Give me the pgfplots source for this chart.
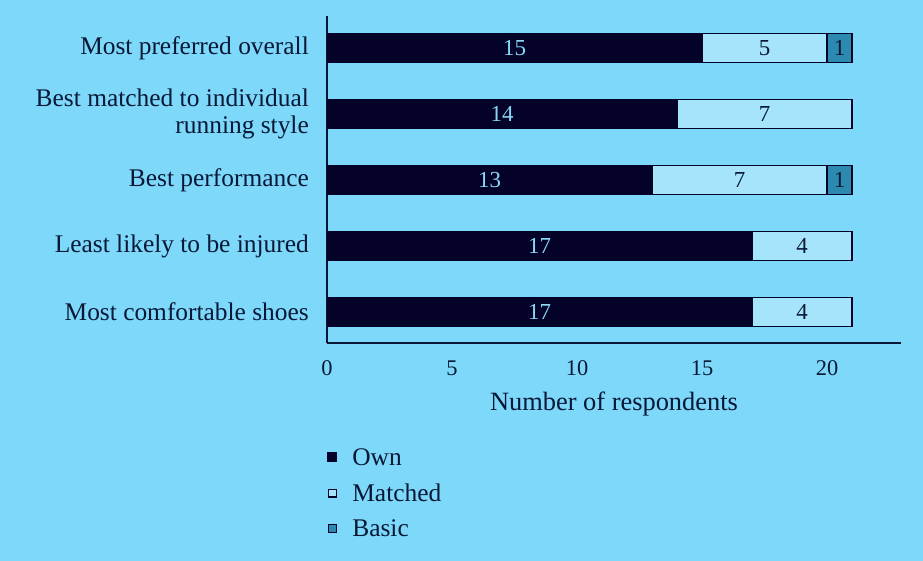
\documentclass[border=0pt]{standalone}
\usepackage{fontspec}
\setmainfont{Liberation Serif}
\usepackage{pgfplots}
\pgfplotsset{compat=1.18}
\definecolor{bg}{RGB}{125,216,250}
\definecolor{own}{RGB}{4,2,40}
\definecolor{matched}{RGB}{165,228,250}
\definecolor{basic}{RGB}{44,138,176}
\definecolor{textc}{RGB}{8,24,54}
\definecolor{ownlab}{RGB}{135,215,245}
\begin{document}
\begin{tikzpicture}
\useasboundingbox (0,0) rectangle (923bp,561bp);
\fill[bg] (0,0) rectangle (923bp,561bp);
\begin{axis}[
  at={(327bp,218bp)}, anchor=south west,
  scale only axis, width=574bp, height=327bp,
  xmin=0, xmax=22.96, ymin=-0.47, ymax=4.49,
  xbar stacked, bar width=29bp,
  axis lines*=left,
  axis line style={draw=textc, line width=1.6bp, -},
  major tick length=0pt,
  xtick={0,5,10,15,20},
  ytick={0,1,2,3,4},
  yticklabels={Most comfortable shoes, Least likely to be injured, Best performance, {Best matched to individual\\running style}, Most preferred overall},
  yticklabel style={align=right, inner sep=0pt, xshift=-18bp, font=\fontsize{25.5}{27}\selectfont, text=textc},
  xticklabel style={anchor=base, inner sep=0pt, yshift=-32bp, font=\fontsize{22.5}{27}\selectfont, text=textc},
  /pgf/number format/assume math mode=true,
  xlabel={Number of respondents},
  xlabel style={at={(axis description cs:0.5,0)}, anchor=base, yshift=-67bp, inner sep=0pt, font=\fontsize{26.5}{27}\selectfont, text=textc},
  legend cell align=left,
  legend style={at={(axis description cs:0,-0.315)}, anchor=north west, draw=none, fill=none, font=\fontsize{25.5}{29}\selectfont, text=textc, row sep=13bp, inner sep=0pt},
]
\addplot[fill=own, draw=own, line width=1.2bp,
  legend image code/.code={\fill[own] (1bp,-4.5bp) rectangle (10bp,4.5bp);}]
  coordinates {(17,0) (17,1) (13,2) (14,3) (15,4)};
\addplot[fill=matched, draw=own, line width=1.2bp,
  legend image code/.code={\draw[fill=matched, draw=own, line width=1.2bp] (1.6bp,-3.9bp) rectangle (9.4bp,3.9bp);}]
  coordinates {(4,0) (4,1) (7,2) (7,3) (5,4)};
\addplot[fill=basic, draw=own, line width=1.2bp,
  legend image code/.code={\draw[fill=basic, draw=own, line width=1.2bp] (1.6bp,-3.9bp) rectangle (9.4bp,3.9bp);}]
  coordinates {(0,0) (0,1) (1,2) (0,3) (1,4)};
\legend{\hspace*{13bp}Own, \hspace*{13bp}Matched, \hspace*{13bp}Basic}
\end{axis}
\begin{axis}[
  at={(327bp,218bp)}, anchor=south west,
  scale only axis, width=574bp, height=327bp,
  xmin=0, xmax=22.96, ymin=-0.47, ymax=4.49,
  axis lines=none,
  nodes near coords, nodes near coords align=center,
  point meta=explicit symbolic,
]
\addplot[draw=none, mark=none, nodes near coords style={font=\fontsize{23}{27}\selectfont, text=ownlab, inner sep=0pt}]
  coordinates {(8.5,0)[17] (8.5,1)[17] (6.5,2)[13] (7,3)[14] (7.5,4)[15]};
\addplot[draw=none, mark=none, nodes near coords style={font=\fontsize{23}{27}\selectfont, text=textc, inner sep=0pt}]
  coordinates {(19,0)[4] (19,1)[4] (16.5,2)[7] (17.5,3)[7] (17.5,4)[5]};
\addplot[draw=none, mark=none, nodes near coords style={font=\fontsize{23}{27}\selectfont, text=textc, inner sep=0pt}]
  coordinates {(20.5,2)[1] (20.5,4)[1]};
\end{axis}
\end{tikzpicture}
\end{document}
